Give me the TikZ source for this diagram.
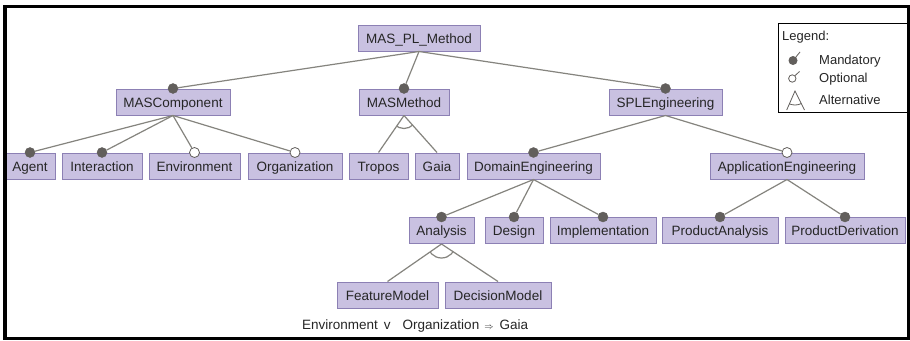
\documentclass[tikz,border=0pt]{standalone}
\usepackage{fontspec}
\setmainfont{Liberation Sans}
\definecolor{boxfill}{HTML}{C9C1E1}
\definecolor{boxline}{HTML}{8C80B4}
\definecolor{edgecol}{HTML}{85847E}
\definecolor{dotcol}{HTML}{625F5C}
\definecolor{txt}{HTML}{262626}
\begin{document}
\begin{tikzpicture}[x=1pt,y=-1pt,
  feat/.style={draw=boxline, line width=1pt, fill=boxfill, minimum height=26pt,
    inner sep=0pt, text=txt, text height=11pt, text depth=1pt,
    font=\fontsize{13.5}{15}\selectfont},
  edge/.style={draw=edgecol, line width=1.2pt},
  mand/.style={circle, draw=dotcol, fill=dotcol, minimum size=10pt, inner sep=0pt},
  opt/.style={circle, draw=dotcol, line width=0.8pt, fill=white, minimum size=10pt, inner sep=0pt},
  lbl/.style={text=txt, inner sep=0pt, font=\fontsize{13}{15}\selectfont}]
\useasboundingbox (0,0) rectangle (910,340);
\fill[white] (0,0) rectangle (910,340);

% features
\node[feat, minimum width=122pt] (root) at (419,38) {MAS\_PL\_Method};
\node[feat, minimum width=114pt] (mc) at (173,102) {MASComponent};
\node[feat, minimum width=90pt] (mm) at (404,102) {MASMethod};
\node[feat, minimum width=113pt] (spl) at (665.5,102) {SPLEngineering};
\node[feat, minimum width=50pt] (agent) at (30,166) {Agent};
\node[feat, minimum width=80pt] (inter) at (102,166) {Interaction};
\node[feat, minimum width=91pt] (env) at (194.5,166) {Environment};
\node[feat, minimum width=94pt] (org) at (295,166) {Organization};
\node[feat, minimum width=59pt] (tropos) at (378.5,166) {Tropos};
\node[feat, minimum width=44pt] (gaia) at (437,166) {Gaia};
\node[feat, minimum width=133pt] (de) at (533.5,166) {DomainEngineering};
\node[feat, minimum width=154pt] (ae) at (787,166) {ApplicationEngineering};
\node[feat, minimum width=65pt] (an) at (441.5,230.5) {Analysis};
\node[feat, minimum width=58pt] (des) at (514,230.5) {Design};
\node[feat, minimum width=106pt] (impl) at (603,230.5) {Implementation};
\node[feat, minimum width=116pt] (pa) at (720,230.5) {ProductAnalysis};
\node[feat, minimum width=120pt] (pd) at (845,230.5) {ProductDerivation};
\node[feat, minimum width=101pt] (fm) at (387.5,295) {FeatureModel};
\node[feat, minimum width=106pt] (dm) at (498,295) {DecisionModel};

% mandatory / optional markers
\node[mand] (dmc) at (mc.north) {};
\node[mand] (dmm) at (mm.north) {};
\node[mand] (dspl) at (spl.north) {};
\node[mand] (dagent) at (agent.north) {};
\node[mand] (dinter) at (inter.north) {};
\node[opt] (denv) at (env.north) {};
\node[opt] (dorg) at (org.north) {};
\node[mand] (dde) at (de.north) {};
\node[opt] (dae) at (ae.north) {};
\node[mand] (dan) at (an.north) {};
\node[mand] (ddes) at (des.north) {};
\node[mand] (dimpl) at (impl.north) {};
\node[mand] (dpa) at (pa.north) {};
\node[mand] (dpd) at (pd.north) {};

% connectors
\draw[edge] (root.south) -- (dmc);
\draw[edge] (root.south) -- (dmm);
\draw[edge] (root.south) -- (dspl);
\draw[edge] (mc.south) -- (dagent);
\draw[edge] (mc.south) -- (dinter);
\draw[edge] (mc.south) -- (denv);
\draw[edge] (mc.south) -- (dorg);
\draw[edge] (spl.south) -- (dde);
\draw[edge] (spl.south) -- (dae);
\draw[edge] (de.south) -- (dan);
\draw[edge] (de.south) -- (ddes);
\draw[edge] (de.south) -- (dimpl);
\draw[edge] (ae.south) -- (dpa);
\draw[edge] (ae.south) -- (dpd);

% alternative groups
\draw[edge] (mm.south) -- (tropos.north);
\draw[edge] (mm.south) -- (gaia.north);
\begin{scope}
  \clip (mm.south) -- (tropos.north) -- (gaia.north) -- cycle;
  \draw[edge] (mm.south) circle (13pt);
\end{scope}
\draw[edge] (an.south) -- (fm.north);
\draw[edge] (an.south) -- (dm.north);
\begin{scope}
  \clip (an.south) -- (fm.north) -- (dm.north) -- cycle;
  \draw[edge] (an.south) circle (14pt);
\end{scope}

% constraint
\node[lbl, anchor=west, font=\fontsize{13.5}{15}\selectfont] (cons) at (302,326)
  {Environment\hspace{6pt}v\hspace{12pt}Organization\hspace{5pt}{\fontsize{9}{9}\selectfont$\Rightarrow$}\hspace{6pt}Gaia};

% legend
\draw[black, line width=0.9pt] (778,23) rectangle (907,112);
\node[lbl, anchor=west] (lgtitle) at (782,37.5) {Legend:};
\fill[dotcol] (793,60.5) circle (4.5pt);
\draw[dotcol, line width=0.8pt] (795.5,57.5) -- (800,52);
\draw[dotcol, line width=0.8pt] (792.3,78.5) circle (3.7pt);
\draw[dotcol, line width=0.8pt] (794.8,75.8) -- (799.5,71.5);
\draw[dotcol, line width=0.8pt] (786.7,110) -- (795,91) -- (804.5,110);
\begin{scope}
  \clip (795,91) -- (786.7,110) -- (804.5,110) -- cycle;
  \draw[dotcol, line width=0.8pt] (795,91) circle (14pt);
\end{scope}
\node[lbl, anchor=west] (lgm) at (819,61.5) {Mandatory};
\node[lbl, anchor=west] (lgo) at (819,79.5) {Optional};
\node[lbl, anchor=west] (lga) at (819,100) {Alternative};

% frame
\draw[black, line width=3.5pt] (4.8,6.5) rectangle (908.3,338.3);
\end{tikzpicture}
\end{document}
